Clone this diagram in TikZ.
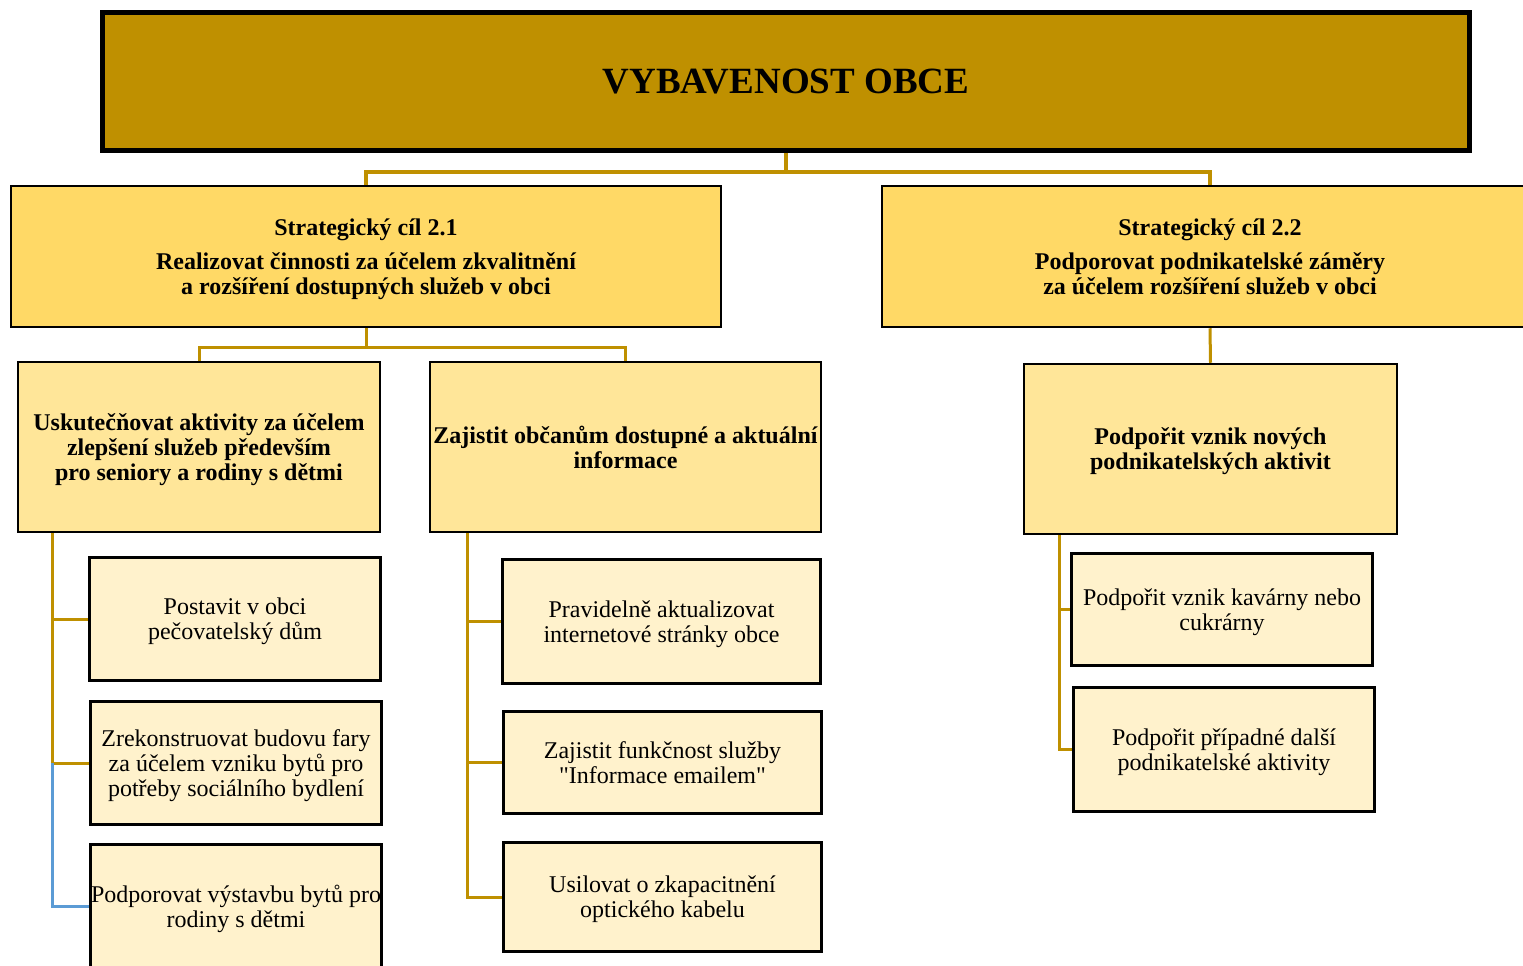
\documentclass[tikz,border=0pt]{standalone}
\usepackage{fontspec}
\setmainfont{Liberation Serif}

\definecolor{darkgold}{RGB}{191,144,0}
\definecolor{goalfill}{RGB}{255,217,102}
\definecolor{taskfill}{RGB}{255,230,153}
\definecolor{stepfill}{RGB}{255,242,204}
\definecolor{bluelink}{RGB}{91,155,213}

\begin{document}
\begin{tikzpicture}[x=1pt, y=-1pt,
	every node/.style={align=center, inner sep=0pt, text depth=0pt, font=\fontsize{24}{25}\selectfont},
	goal/.style={draw=black, line width=2.5pt, fill=goalfill, minimum height=141pt, font=\bfseries\fontsize{24}{25}\selectfont},
	task/.style={draw=black, line width=2.5pt, fill=taskfill, minimum height=170pt, font=\bfseries\fontsize{24}{25}\selectfont},
	measure/.style={draw=black, line width=3pt, fill=stepfill},
	link/.style={draw=darkgold, line width=3pt}]
	\useasboundingbox (0,0) rectangle (1523,966);
	% top
	\node [draw=black, line width=5pt, fill=darkgold, minimum width=1367pt, minimum height=138pt, font=\bfseries\fontsize{37}{40}\selectfont] (top) at (786,81.5) {VYBAVENOST OBCE};
	% strategic goals
	\node [goal, minimum width=710pt] (goalA) at (366,256.5) {Strategický cíl 2.1\\[9pt]Realizovat činnosti za účelem zkvalitnění\\a rozšíření dostupných služeb v obci};
	\node [goal, minimum width=656pt] (goalB) at (1210,256.5) {Strategický cíl 2.2\\[9pt]Podporovat podnikatelské záměry\\za účelem rozšíření služeb v obci};
	% specific goals
	\node [task, minimum width=362pt] (taskA) at (199,447) {Uskutečňovat aktivity za účelem\\zlepšení služeb především\\pro seniory a rodiny s dětmi};
	\node [task, minimum width=391pt] (taskB) at (625.5,447) {Zajistit občanům dostupné a aktuální\\informace};
	\node [task, minimum width=373pt] (taskC) at (1210.5,449) {Podpořit vznik nových\\podnikatelských aktivit};
	% measures
	\node [measure, minimum width=291pt, minimum height=123pt] (a1) at (235,619) {Postavit v obci\\pečovatelský dům};
	\node [measure, minimum width=291pt, minimum height=123pt] (a2) at (236,763) {Zrekonstruovat budovu fary\\za účelem vzniku bytů pro\\potřeby sociálního bydlení};
	\node [measure, minimum width=291pt, minimum height=123pt] (a3) at (236,906) {Podporovat výstavbu bytů pro\\rodiny s dětmi};
	\node [measure, minimum width=318pt, minimum height=124pt] (b1) at (661.5,621.5) {Pravidelně aktualizovat\\internetové stránky obce};
	\node [measure, minimum width=318pt, minimum height=102pt] (b2) at (662.5,762.5) {Zajistit funkčnost služby\\\textquotedbl Informace emailem\textquotedbl};
	\node [measure, minimum width=318pt, minimum height=109pt] (b3) at (662.5,897) {Usilovat o zkapacitnění\\optického kabelu};
	\node [measure, minimum width=301pt, minimum height=112pt] (c1) at (1222,609.5) {Podpořit vznik kavárny nebo\\cukrárny};
	\node [measure, minimum width=301pt, minimum height=124pt] (c2) at (1224,749.5) {Podpořit případné další\\podnikatelské aktivity};
	% links
	\draw [link, line width=4pt] (top.south) -- ++(0,19) -| (goalA.north);
	\draw [link, line width=4pt] (top.south) -- ++(0,19) -| (goalB.north);
	\draw [link] (goalA.south) -- ++(0,19) -| (taskA.north);
	\draw [link] (goalA.south) -- ++(0,19) -| (taskB.north);
	\draw [link] (goalB.south) -- (taskC.north);
	\coordinate (railA) at ([xshift=36pt]taskA.south west);
	\coordinate (railB) at ([xshift=39pt]taskB.south west);
	\coordinate (railC) at ([xshift=37pt]taskC.south west);
	\draw [link] (railA) |- (a1.west);
	\draw [link] (railA) |- (a2.west);
	\draw [link, draw=bluelink] (railA |- a2.west) |- (a3.west);
	\draw [link] (railB) |- (b1.west);
	\draw [link] (railB) |- (b2.west);
	\draw [link] (railB) |- (b3.west);
	\draw [link] (railC) |- (c1.west);
	\draw [link] (railC) |- (c2.west);
\end{tikzpicture}
\end{document}
